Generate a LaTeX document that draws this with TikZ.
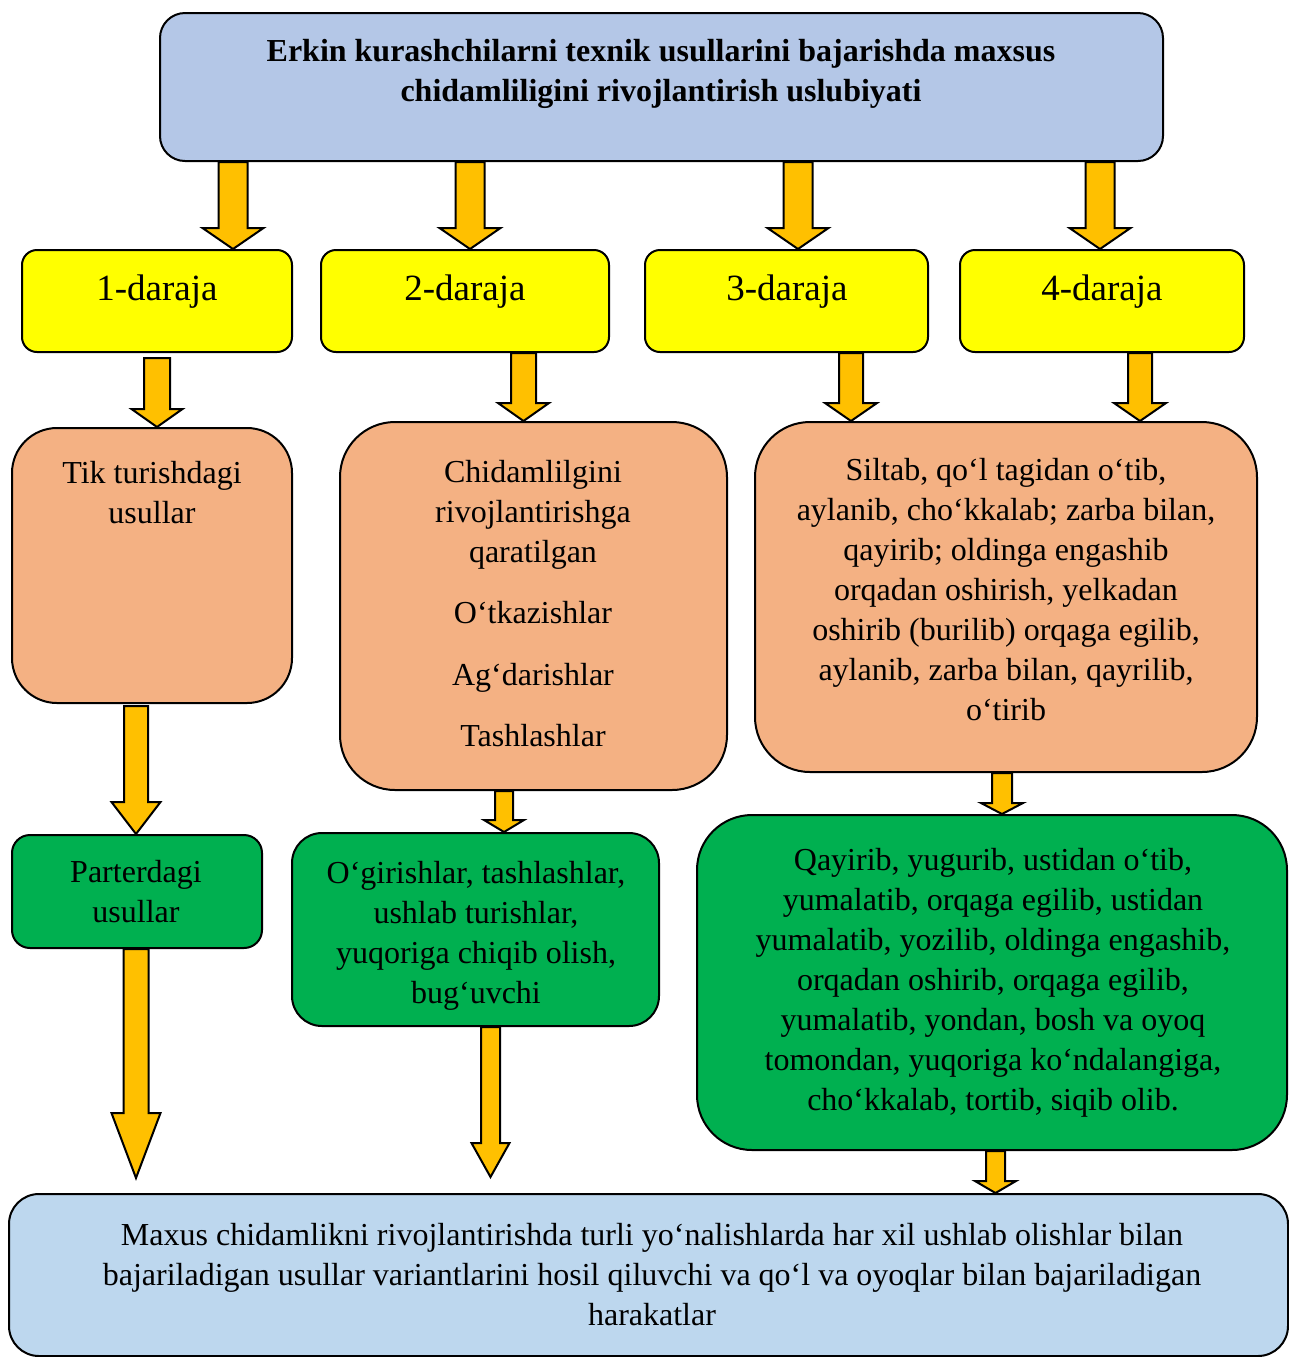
\documentclass[tikz,border=0pt]{standalone}
\usepackage{fontspec}
\setmainfont{Liberation Serif}
\usetikzlibrary{calc}
\definecolor{titleblue}{HTML}{B4C7E7}
\definecolor{lvlyellow}{HTML}{FFFF00}
\definecolor{peach}{HTML}{F4B183}
\definecolor{leaf}{HTML}{00B050}
\definecolor{bottomblue}{HTML}{BDD7EE}
\definecolor{arrowgold}{HTML}{FFC000}
\pgfdeclarelayer{bg}
\pgfsetlayers{bg,main}
\tikzset{
  box/.style={draw=black, line width=1pt, inner sep=0pt},
  txt/.style={align=center, font=\fontsize{16}{20}\selectfont, inner sep=0pt},
  barrow/.style={draw=black, line width=1pt, fill=arrowgold, line join=miter},
}
% start, end, half shaft, half head, head length (px units)
\newcommand\blockarrow[5]{%
  \draw[barrow] ($(#1)+(-#3,0)$) -- ($(#2)+(-#3,-#5)$) -- ($(#2)+(-#4,-#5)$) -- (#2)
    -- ($(#2)+(#4,-#5)$) -- ($(#2)+(#3,-#5)$) -- ($(#1)+(#3,0)$) -- cycle;}
\begin{document}
\begin{tikzpicture}[x=0.5pt, y=-0.5pt]
\useasboundingbox (0,0) rectangle (1289,1357);
\clip (0,0) rectangle (1289,1357);

% title
\node[box, fill=titleblue, rounded corners=12.5pt, minimum width=501.5pt, minimum height=74pt] (title) at (661.5,87) {};
\node[txt, font=\bfseries\fontsize{16}{20}\selectfont] (titletxt) at (661,74)
  {Erkin kurashchilarni texnik usullarini bajarishda maxsus\\chidamliligini rivojlantirish uslubiyati};

% levels
\tikzset{lvl/.style={box, fill=lvlyellow, rounded corners=7.5pt, minimum height=51pt},
         lvltxt/.style={inner sep=0pt, font=\fontsize{18.5}{22}\selectfont}}
\node[lvl, minimum width=135pt] (y1) at (157,301) {};
\node[lvl, minimum width=144pt] (y2) at (465,301) {};
\node[lvl, minimum width=141.5pt] (y3) at (786.5,301) {};
\node[lvl, minimum width=142pt] (y4) at (1102,301) {};
\node[lvltxt] (y1t) at (157,292) {1-daraja};
\node[lvltxt] (y2t) at (465,292) {2-daraja};
\node[lvltxt] (y3t) at (787,292) {3-daraja};
\node[lvltxt] (y4t) at (1102,292) {4-daraja};

% peach boxes
\node[box, fill=peach, rounded corners=22.5pt, minimum width=140pt, minimum height=137.5pt] (o1) at (152,565.5) {};
\node[box, fill=peach, rounded corners=27.5pt, minimum width=193.5pt, minimum height=184pt] (o2) at (533.5,606) {};
\node[box, fill=peach, rounded corners=27.5pt, minimum width=251pt, minimum height=175pt] (o3) at (1006,597) {};
\node[txt] (o1t) at (152,493) {Tik turishdagi\\usullar};
\node[txt] (o2t) at (533,604) {Chidamlilgini\\rivojlantirishga\\qaratilgan\\[10.5pt]O‘tkazishlar\\[11pt]Ag‘darishlar\\[10.5pt]Tashlashlar};
\node[txt] (o3t) at (1006,590) {Siltab, qo‘l tagidan o‘tib,\\aylanib, cho‘kkalab; zarba bilan,\\qayirib; oldinga engashib\\orqadan oshirish, yelkadan\\oshirib (burilib) orqaga egilib,\\aylanib, zarba bilan, qayrilib,\\o‘tirib};

% green boxes
\node[box, fill=leaf, rounded corners=9pt, minimum width=125pt, minimum height=56.5pt] (g1) at (137,891.5) {};
\node[box, fill=leaf, rounded corners=15pt, minimum width=183.5pt, minimum height=96.5pt] (g2) at (475.5,929.5) {};
\node[box, fill=leaf, rounded corners=27.5pt, minimum width=295pt, minimum height=167.5pt] (g3) at (992,982.5) {};
\node[txt] (g1t) at (136,892) {Parterdagi\\usullar};
\node[txt] (g2t) at (476,936) {O‘girishlar, tashlashlar,\\ushlab turishlar,\\yuqoriga chiqib olish,\\bug‘uvchi};
\node[txt] (g3t) at (993,983) {Qayirib, yugurib, ustidan o‘tib,\\yumalatib, orqaga egilib, ustidan\\yumalatib, yozilib, oldinga engashib,\\orqadan oshirib, orqaga egilib,\\yumalatib, yondan, bosh va oyoq\\tomondan, yuqoriga ko‘ndalangiga,\\cho‘kkalab, tortib, siqib olib.};

% bottom box
\node[box, fill=bottomblue, rounded corners=15pt, minimum width=639.5pt, minimum height=81pt] (bot) at (648.5,1275) {};
\node[txt] (bott) at (652,1275) {Maxus chidamlikni rivojlantirishda turli yo‘nalishlarda har xil ushlab olishlar bilan\\bajariladigan usullar variantlarini hosil qiluvchi va qo‘l va oyoqlar bilan bajariladigan\\harakatlar};

% arrow end points
\coordinate (a1s) at (title.south -| 233,0);  \coordinate (a1e) at (y1.north -| 233,0);
\coordinate (a2s) at (title.south -| 470,0);  \coordinate (a2e) at (y2.north -| 470,0);
\coordinate (a3s) at (title.south -| 798,0);  \coordinate (a3e) at (y3.north -| 798,0);
\coordinate (a4s) at (title.south -| 1100,0); \coordinate (a4e) at (y4.north -| 1100,0);

\coordinate (b1s) at (157,358);               \coordinate (b1e) at (o1.north -| 157,0);
\coordinate (b2s) at (y2.south -| 523.5,0);   \coordinate (b2e) at (o2.north -| 523.5,0);
\coordinate (b3s) at (y3.south -| 851,0);     \coordinate (b3e) at (o3.north -| 851,0);
\coordinate (b4s) at (y4.south -| 1140,0);    \coordinate (b4e) at (o3.north -| 1140,0);

\coordinate (c1s) at (136,706);               \coordinate (c1e) at (g1.north -| 136,0);
\coordinate (c2s) at (o2.south -| 504,0);     \coordinate (c2e) at (g2.north -| 504,0);
\coordinate (c3s) at (o3.south -| 1002,0);    \coordinate (c3e) at (g3.north -| 1002,0);

\coordinate (d1s) at (g1.south -| 136,0);     \coordinate (d1e) at (136,1178);
\coordinate (d2s) at (g2.south -| 490.5,0);   \coordinate (d2e) at (490.5,1177);
\coordinate (d3s) at (g3.south -| 995.5,0);   \coordinate (d3e) at (bot.north -| 995.5,0);

\begin{pgfonlayer}{bg}
\blockarrow{a1s}{a1e}{14.5}{30.5}{21}
\blockarrow{a2s}{a2e}{14.5}{30.5}{21}
\blockarrow{a3s}{a3e}{14.5}{30.5}{21}
\blockarrow{a4s}{a4e}{14.5}{30.5}{21}
\blockarrow{b2s}{b2e}{12.5}{25.5}{18}
\blockarrow{b3s}{b3e}{12}{26}{18}
\blockarrow{b4s}{b4e}{12}{26}{18}
\blockarrow{c2s}{c2e}{9}{20}{12}
\blockarrow{c3s}{c3e}{10}{21}{11}
\blockarrow{d3s}{d3e}{9.5}{20.5}{12}
\end{pgfonlayer}
\blockarrow{b1s}{b1e}{13}{25.5}{18}
\blockarrow{c1s}{c1e}{12}{24.5}{32}
\blockarrow{d1s}{d1e}{12.5}{24.5}{65}
\blockarrow{d2s}{d2e}{9.5}{19}{34}
\end{tikzpicture}
\end{document}
